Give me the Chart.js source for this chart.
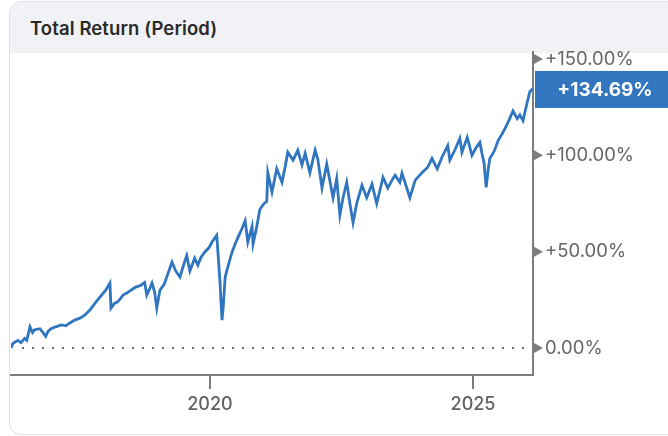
<!DOCTYPE html>
<html>
<head>
<meta charset="utf-8">
<script src="https://cdn.jsdelivr.net/npm/chart.js@4.4.1/dist/chart.umd.min.js"></script>
<style>
  html, body { margin: 0; padding: 0; background: #fff; }
  body { width: 668px; height: 436px; position: relative; overflow: hidden; font-family: Inter, "Noto Sans", sans-serif; }
  .card {
    position: absolute; left: 9px; top: 1px; width: 672px; height: 432px;
    border: 1px solid #dedfe3; border-radius: 12px; overflow: hidden; background: #fff;
  }
  .card-head {
    height: 51px; background: #f1f2f6; padding-left: 20px;
    font-size: 18.5px; font-weight: 600; color: #2a2a2a; line-height: 52px; letter-spacing: 0.1px;
  }
  #chart { position: absolute; left: 0; top: 0; }
</style>
</head>
<body>
<div class="card"><div class="card-head">Total Return (Period)</div></div>
<canvas id="chart" width="668" height="436"></canvas>
<script>
// decimal year of each reading, and total return in %
const years = [
  2016.22, 2016.26, 2016.35, 2016.41, 2016.48, 2016.52, 2016.58, 2016.63, 2016.67, 2016.77,
  2016.83, 2016.88, 2016.92, 2016.98, 2017.07, 2017.17, 2017.26, 2017.34, 2017.43, 2017.53,
  2017.62, 2017.72, 2017.81, 2017.93, 2018.02, 2018.10, 2018.12, 2018.18, 2018.25, 2018.31,
  2018.35, 2018.42, 2018.50, 2018.59, 2018.69, 2018.76, 2018.80, 2018.86, 2018.90, 2018.95,
  2018.99, 2019.05, 2019.13, 2019.18, 2019.28, 2019.35, 2019.43, 2019.51, 2019.56, 2019.62,
  2019.71, 2019.77, 2019.83, 2019.90, 2019.98, 2020.04, 2020.13, 2020.15, 2020.19, 2020.23,
  2020.25, 2020.29, 2020.34, 2020.42, 2020.51, 2020.61, 2020.67, 2020.72, 2020.80, 2020.82,
  2020.89, 2020.95, 2021.03, 2021.08, 2021.10, 2021.18, 2021.27, 2021.37, 2021.43, 2021.48,
  2021.58, 2021.67, 2021.75, 2021.81, 2021.90, 2022.00, 2022.05, 2022.13, 2022.22, 2022.34,
  2022.41, 2022.47, 2022.53, 2022.60, 2022.66, 2022.72, 2022.79, 2022.89, 2022.98, 2023.08,
  2023.17, 2023.29, 2023.38, 2023.48, 2023.52, 2023.61, 2023.65, 2023.73, 2023.80, 2023.90,
  2024.03, 2024.14, 2024.22, 2024.32, 2024.41, 2024.52, 2024.56, 2024.66, 2024.75, 2024.79,
  2024.89, 2024.98, 2025.06, 2025.13, 2025.17, 2025.21, 2025.25, 2025.29, 2025.32, 2025.40,
  2025.48, 2025.55, 2025.61, 2025.68, 2025.76, 2025.84, 2025.89, 2025.95, 2026.03, 2026.08,
  2026.14
];
const totalReturn = [
  0, 2.5, 4, 2.8, 5, 4, 11, 8, 9.5, 10,
  8, 6, 8.5, 10, 11, 12, 11.5, 13, 14.5, 15.5,
  17, 19.7, 23, 27, 30, 33.7, 20.7, 23, 24, 26,
  27.5, 28.5, 30, 31.6, 32.6, 34, 27.5, 31, 33.7, 29,
  20.7, 30, 33, 36.8, 44.6, 40, 36.8, 44, 48, 40,
  46.6, 43, 47, 49.7, 52, 55, 58.5, 50.7, 35, 14.5,
  20, 36.8, 42, 49.7, 56, 62, 66, 55, 63, 54,
  63, 72, 75, 76, 91, 81, 93, 86, 94, 101.6,
  97.5, 102.6, 95, 101, 91, 102.6, 98, 83, 95.5, 78,
  88, 69, 78, 86, 75, 65, 75, 84.5, 78, 85,
  75, 88.6, 83, 88, 89.6, 86, 90.7, 84, 78, 87,
  91, 93.8, 98.4, 93, 99, 105, 97.5, 103, 108.8, 101.6,
  109.3, 100, 104, 106.7, 101, 96, 83.4, 93, 98.4, 102,
  107.8, 111, 114, 118, 123, 119, 121, 118, 127.5, 133,
  134.69
];
const yTicks = [0, 50, 100, 150];
const xTicks = [2020, 2025];
const lastValue = totalReturn[totalReturn.length - 1];

function fmtPct(v) {
  return (v > 0 ? "+" : "") + v.toFixed(2) + "%";
}

const axisGray = "#7d7d7d";

const decorations = {
  id: "decorations",
  beforeDatasetsDraw(chart) {
    const { ctx, chartArea, scales } = chart;
    const y0 = scales.y.getPixelForValue(0);
    ctx.save();
    ctx.strokeStyle = "#6a6a6a";
    ctx.lineWidth = 2;
    ctx.setLineDash([2, 8]);
    ctx.beginPath();
    ctx.moveTo(chartArea.left + 11, y0);
    ctx.lineTo(chartArea.right - 4, y0);
    ctx.stroke();
    ctx.restore();
  },
  afterDraw(chart) {
    const { ctx, chartArea, scales } = chart;
    ctx.save();
    // small arrow heads on the right axis
    ctx.fillStyle = axisGray;
    yTicks.forEach(v => {
      const py = scales.y.getPixelForValue(v);
      ctx.beginPath();
      ctx.moveTo(chartArea.right + 1, py - 5);
      ctx.lineTo(chartArea.right + 10, py);
      ctx.lineTo(chartArea.right + 1, py + 5);
      ctx.closePath();
      ctx.fill();
    });
    // last value tag
    const py = scales.y.getPixelForValue(lastValue) + 1;
    ctx.fillStyle = "#3176bf";
    ctx.fillRect(chartArea.right + 2, py - 18.5, 200, 37);
    ctx.fillStyle = "#ffffff";
    ctx.font = "bold 19px Inter, 'Noto Sans', sans-serif";
    ctx.textAlign = "center";
    ctx.textBaseline = "middle";
    ctx.fillText(fmtPct(lastValue), 605, py + 1);
    ctx.restore();
  }
};

new Chart(document.getElementById("chart"), {
  type: "line",
  data: {
    datasets: [{
      data: years.map((x, i) => ({ x, y: totalReturn[i] })),
      borderColor: "#2f75c0",
      borderWidth: 2.8,
      pointRadius: 0,
      tension: 0,
      fill: false,
    }],
  },
  options: {
    responsive: false,
    animation: false,
    layout: { padding: { left: 11, top: 52, right: 0, bottom: 0 } },
    plugins: { legend: { display: false }, tooltip: { enabled: false } },
    scales: {
      x: {
        type: "linear",
        min: years[0],
        max: years[years.length - 1],
        afterBuildTicks: s => { s.ticks = xTicks.map(v => ({ value: v })); },
        afterFit: s => { s.height = 61; },
        ticks: {
          autoSkip: false, maxRotation: 0, padding: 5,
          color: "#626262", font: { family: "Inter", size: 18, weight: "500" },
          callback: v => String(v),
        },
        grid: { drawOnChartArea: false, drawTicks: true, tickLength: 14, color: axisGray, lineWidth: 2 },
        border: { display: true, color: axisGray, width: 2 },
      },
      y: {
        position: "right",
        min: -14,
        max: 153.6,
        afterBuildTicks: s => { s.ticks = yTicks.map(v => ({ value: v })); },
        afterFit: s => { s.width = 135; },
        ticks: {
          padding: 12,
          color: "#666", font: { family: "Inter", size: 18.5 },
          callback: v => fmtPct(v),
        },
        grid: { drawOnChartArea: false, drawTicks: false },
        border: { display: true, color: axisGray, width: 2 },
      },
    },
  },
  plugins: [decorations],
});
</script>
</body>
</html>
